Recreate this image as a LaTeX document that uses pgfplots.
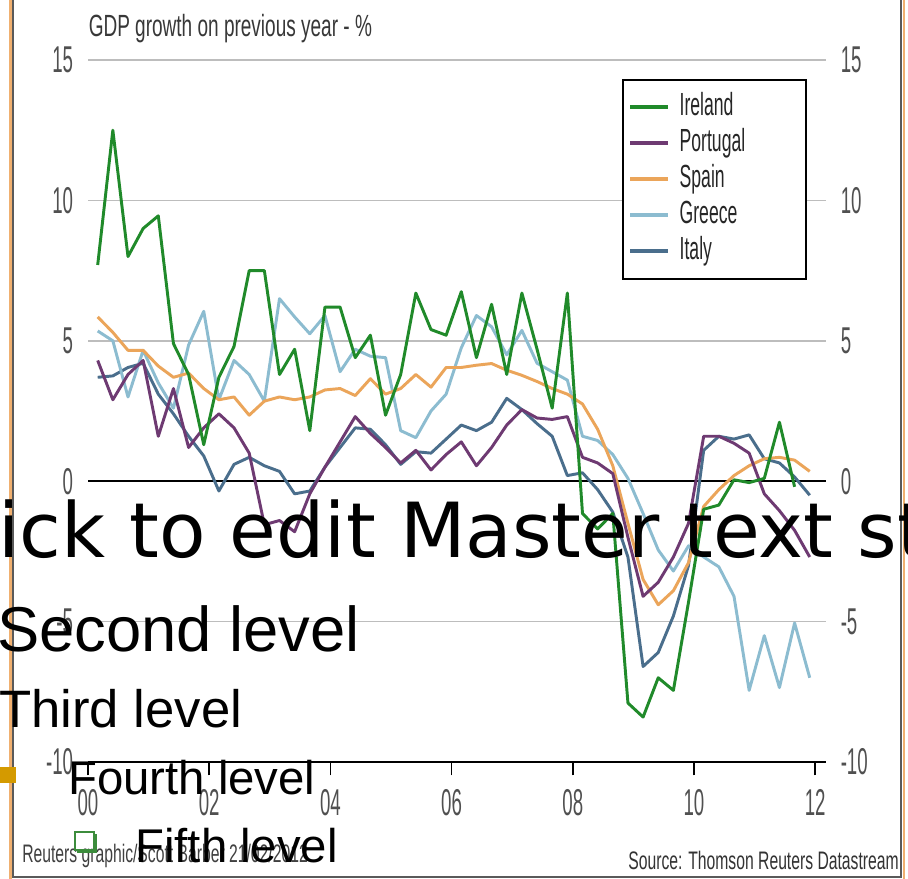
\documentclass[border=0pt]{standalone}
\usepackage{fontspec}
\usepackage{pgfplots}
\usepackage{pgfplotstable}
\pgfplotsset{compat=1.18}
\setmainfont{Liberation Sans}
\newfontfamily\titlefont[FakeStretch=0.62]{Liberation Sans}
\newfontfamily\legfont[FakeStretch=0.55]{Liberation Sans}
\newfontfamily\tickfont[FakeStretch=0.5]{Liberation Sans}
\newfontfamily\slidefont{DejaVu Sans}

\definecolor{ireland}{HTML}{208A2A}
\definecolor{portugal}{HTML}{6E3A72}
\definecolor{spain}{HTML}{EBA55A}
\definecolor{greece}{HTML}{8CBCD0}
\definecolor{italy}{HTML}{4A6E8C}
\definecolor{gridgrey}{HTML}{BDBDBD}
\definecolor{tickgrey}{HTML}{505050}
\definecolor{framegrey}{HTML}{5A5A5A}
\definecolor{frameorange}{HTML}{F0B070}
\definecolor{bulletorange}{HTML}{D49A00}
\definecolor{bulletgreen}{HTML}{3C8C3C}

% Year-on-year GDP growth (%), quarterly, 2000 Q1 - 2011 Q4
\pgfplotstableread{
x        ire    por    spa    gre    ita
2000.16  7.7    4.3    5.85   5.35   3.7
2000.41  12.5   2.9    5.3    5.0    3.75
2000.66  8.0    3.8    4.66   3.0    4.05
2000.91  9.0    4.3    4.66   4.66   4.2
2001.16  9.45   1.6    4.1    3.5    3.1
2001.41  4.9    3.3    3.7    2.6    2.4
2001.66  3.8    1.2    3.85   4.85   1.6
2001.91  1.3    1.9    3.3    6.05   0.9
2002.16  3.7    2.4    2.9    2.9   -0.35
2002.41  4.8    1.9    3.0    4.3    0.6
2002.66  7.5    1.0    2.35   3.8    0.85
2002.91  7.5   -1.55   2.85   2.85   0.55
2003.16  3.8   -1.4    3.0    6.5    0.35
2003.41  4.7   -1.8    2.9    5.85  -0.45
2003.66  1.8   -0.45   3.0    5.25  -0.35
2003.91  6.2    0.5    3.25   5.9    0.5
2004.16  6.2    1.4    3.3    3.9    1.2
2004.41  4.4    2.3    3.05   4.7    1.9
2004.66  5.2    1.7    3.65   4.45   1.85
2004.91  2.35   1.2    3.1    4.4    1.3
2005.16  3.8    0.65   3.3    1.8    0.6
2005.41  6.7    1.1    3.8    1.55   1.05
2005.66  5.4    0.4    3.35   2.5    1.0
2005.91  5.2    0.95   4.05   3.1    1.5
2006.16  6.75   1.4    4.05   4.75   2.0
2006.41  4.4    0.55   4.13   5.9    1.8
2006.66  6.3    1.2    4.19   5.5    2.1
2006.91  3.8    2.0    3.95   4.5    2.95
2007.16  6.7    2.55   3.77   5.37   2.55
2007.41  4.7    2.25   3.55   4.2    2.05
2007.66  2.6    2.2    3.3    3.9    1.6
2007.91  6.7    2.3    3.1    3.6    0.2
2008.16 -1.15   0.85   2.75   1.6    0.3
2008.41 -1.7    0.65   1.85   1.45  -0.3
2008.66 -1.15   0.27   0.55   0.95  -1.1
2008.91 -7.9   -2.0   -1.5    0.1   -2.7
2009.16 -8.4   -4.1   -3.5   -1.15  -6.6
2009.41 -7.0   -3.6   -4.4   -2.45  -6.1
2009.66 -7.45  -2.7   -3.9   -3.2   -4.8
2009.91 -4.3   -1.5   -2.9   -2.3   -3.0
2010.16 -1.0    1.6   -0.9   -2.7    1.1
2010.41 -0.85   1.6   -0.3   -3.05   1.6
2010.66  0.05   1.35   0.2   -4.1    1.5
2010.91 -0.05   1.0    0.55  -7.45   1.65
2011.16  0.1   -0.45   0.8   -5.5    0.8
2011.41  2.1   -1.05   0.85  -7.35   0.65
2011.66 -0.2   -1.75   0.75  -5.05   0.15
2011.91  nan   -2.7    0.35  -7.0   -0.5
}\gdpdata

\begin{document}
\begin{tikzpicture}[x=0.75pt,y=0.75pt]
\useasboundingbox (0,0) rectangle (908,879);
\clip (0,0) rectangle (908,879);
\fill[white] (0,0) rectangle (908,879);

% frame of the graphic
\draw[framegrey, line width=1.1pt] (13,2) rectangle (901,900);
\draw[frameorange, line width=1.6pt] (10.5,-5) -- (10.5,890);
\draw[frameorange, line width=1.6pt] (904,-5) -- (904,890);

\begin{axis}[
  at={(66pt,87.75pt)}, anchor=south west,
  scale only axis, width=553.125pt, height=526.5pt,
  xmin=2000, xmax=2012.17, ymin=-10, ymax=15,
  axis x line*=bottom, axis y line*=left,
  x axis line style={line width=1.8pt, black, -},
  y axis line style={draw=none},
  ytick style={draw=none},
  xtick style={line width=1.1pt, black},
  tick align=outside,
  major tick length=10pt, minor tick length=6pt,
  xtick={2000,2002,...,2012},
  xticklabels={00,02,04,06,08,10,12},
  minor x tick num=7,
  ytick={-10,-5,5,10,15},
  yticklabels={-10,-5,5,10,15},
  extra y ticks={0}, extra y tick labels={0},
  extra y tick style={ymajorgrids=true, major grid style={black, line width=1.9pt}},
  ymajorgrids,
  major grid style={gridgrey, line width=1.3pt},
  /pgf/number format/assume math mode=true,
  tick label style={font=\tickfont\fontsize{28}{28}\selectfont, text=tickgrey, inner sep=0pt},
  yticklabel style={anchor=east, xshift=-1pt},
  xticklabel style={anchor=north, yshift=-10pt},
  clip=false,
  legend style={at={(0.7241,0.9729)}, anchor=north west, draw=black, line width=1.5pt,
    fill=white, inner xsep=4pt, inner ysep=9.5pt, row sep=5pt, column sep=7pt,
    font=\legfont\fontsize{24}{24}\selectfont, text=black!85,
    nodes={inner sep=0pt, text height=17pt, text depth=5pt}},
  legend cell align=left,
  legend image code/.code={\draw[#1, line width=3pt] (0pt,0pt) -- (28.5pt,0pt);},
  reverse legend,
  every axis plot/.append style={line width=2.2pt, line join=round},
  unbounded coords=jump,
]
\addplot[italy]    table[x=x, y=ita] {\gdpdata};
\addlegendentry{\makebox[90.75pt][l]{Italy}}
\addplot[greece]   table[x=x, y=gre] {\gdpdata};
\addlegendentry{\makebox[90.75pt][l]{Greece}}
\addplot[spain]    table[x=x, y=spa] {\gdpdata};
\addlegendentry{\makebox[90.75pt][l]{Spain}}
\addplot[portugal] table[x=x, y=por] {\gdpdata};
\addlegendentry{\makebox[90.75pt][l]{Portugal}}
\addplot[ireland]  table[x=x, y=ire] {\gdpdata};
\addlegendentry{\makebox[90.75pt][l]{Ireland}}
\end{axis}

% tick labels on the right-hand side
\begin{axis}[
  at={(66pt,87.75pt)}, anchor=south west,
  scale only axis, width=553.125pt, height=526.5pt,
  xmin=2000, xmax=2012.17, ymin=-10, ymax=15,
  axis x line=none, axis y line*=right,
  y axis line style={draw=none},
  ytick style={draw=none},
  ytick={-10,-5,0,5,10,15},
  yticklabels={-10,-5,0,5,10,15},
  tick label style={font=\tickfont\fontsize{28}{28}\selectfont, text=tickgrey, inner sep=0pt},
  yticklabel style={anchor=west, xshift=11.25pt},
]
\end{axis}

% titles and credits
\node[anchor=base west, inner sep=0pt, text=black!78, font=\titlefont\fontsize{23}{23}\selectfont]
  at (88.5,842) {GDP growth on previous year - \%};
\node[anchor=base west, inner sep=0pt, text=black!75, font=\titlefont\fontsize{19}{19}\selectfont]
  at (22,16) {Reuters graphic/Scott Barber 21/02/2012};
\node[anchor=base east, inner sep=0pt, text=black!80, font=\titlefont\fontsize{19}{19}\selectfont]
  at (899,9) {Source: Thomson Reuters Datastream};

% slide text placeholder
\node[anchor=base west, inner sep=0pt, font=\slidefont\fontsize{57}{57}\selectfont]
  at (-76,321) {Click to edit Master text styles};
\node[anchor=base west, inner sep=0pt, font=\fontsize{47.5}{47.5}\selectfont]
  at (-3,227) {Second level};
\node[anchor=base west, inner sep=0pt, font=\fontsize{39.5}{39.5}\selectfont]
  at (-1,151) {Third level};
\fill[bulletorange] (0,96) rectangle (16,112);
\node[anchor=base west, inner sep=0pt, font=\fontsize{35.5}{35.5}\selectfont]
  at (68,84) {Fourth level};
\draw[bulletgreen, line width=1.6pt] (75,29) rectangle (94,47);
\draw[bulletgreen, line width=2.2pt] (77,27) -- (96,27) -- (96,45);
\node[anchor=base west, inner sep=0pt, font=\fontsize{35.5}{35.5}\selectfont]
  at (135,16) {Fifth level};
\end{tikzpicture}
\end{document}
